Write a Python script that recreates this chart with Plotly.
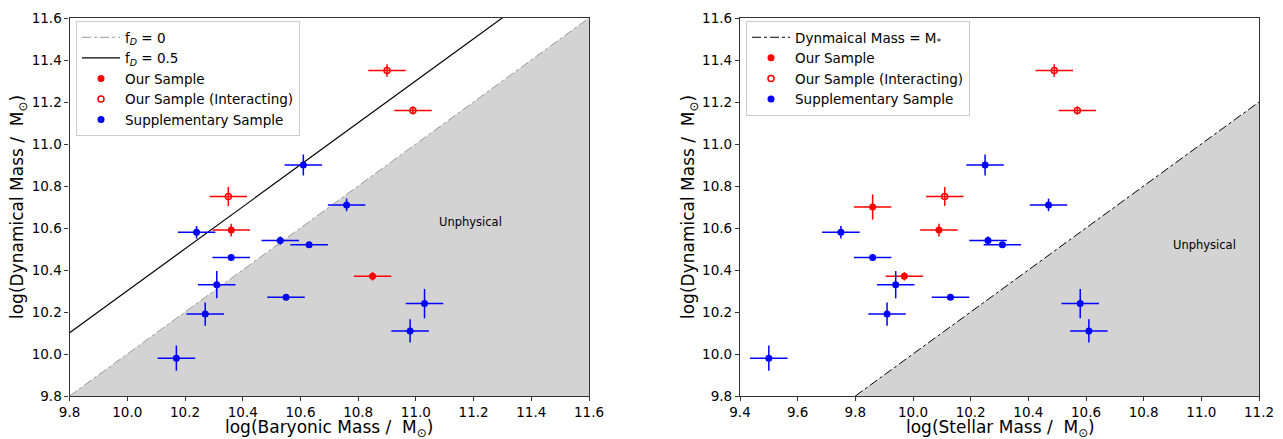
import math
import plotly.graph_objects as go

# ---------------- data ----------------
# Supplementary sample
sup_dyn = [10.90, 10.71, 10.58, 10.54, 10.52, 10.46, 10.33, 10.27, 10.24, 10.19, 10.11, 9.98]
sup_dyn_err = [0.05, 0.03, 0.03, 0.02, 0.01, 0.01, 0.065, 0.01, 0.07, 0.055, 0.055, 0.06]
sup_bary = [10.61, 10.76, 10.24, 10.53, 10.63, 10.36, 10.31, 10.55, 11.03, 10.27, 10.98, 10.17]
sup_stellar = [10.25, 10.47, 9.75, 10.26, 10.31, 9.86, 9.94, 10.13, 10.58, 9.91, 10.61, 9.50]
sup_x_err = [0.065] * 12

# Our sample (left panel: baryonic)
our_bary = [10.36, 10.85]
our_bary_dyn = [10.59, 10.37]
our_bary_dyn_err = [0.03, 0.02]
our_bary_x_err = [0.065, 0.065]

# Our sample (right panel: stellar)
our_stellar = [9.86, 10.09, 9.97]
our_stellar_dyn = [10.70, 10.59, 10.37]
our_stellar_dyn_err = [0.06, 0.03, 0.02]
our_stellar_x_err = [0.065, 0.065, 0.065]

# Our sample (interacting)
int_bary = [10.35, 10.90, 10.99]
int_stellar = [10.11, 10.49, 10.57]
int_dyn = [10.75, 11.35, 11.16]
int_dyn_err = [0.045, 0.03, 0.02]
int_x_err = [0.065, 0.065, 0.065]

left_xrange = [9.8, 11.6]
right_xrange = [9.4, 11.2]
yrange = [9.8, 11.6]
fD_values = [0.0, 0.5]

left_xtitle = "log(Baryonic Mass /  M<sub>⊙</sub>)"
right_xtitle = "log(Stellar Mass /  M<sub>⊙</sub>)"
ytitle = "log(Dynamical Mass /  M<sub>⊙</sub>)"

RED = "#ff0000"
BLUE = "#0000ff"
FONT = "DejaVu Sans"

fig = go.Figure()

# ---------- left panel ----------
fig.add_trace(go.Scatter(
    x=[left_xrange[0], left_xrange[1], left_xrange[1], left_xrange[0]],
    y=[left_xrange[0], left_xrange[1], yrange[0], yrange[0]],
    fill="toself", fillcolor="#d3d3d3", line=dict(width=0),
    mode="lines", showlegend=False, hoverinfo="skip", xaxis="x", yaxis="y"))

styles = [dict(color="#999999", dash="dashdot", width=1), dict(color="black", dash="solid", width=1.2)]
for fD, st in zip(fD_values, styles):
    off = -math.log10(1 - fD)
    fig.add_trace(go.Scatter(
        x=left_xrange, y=[v + off for v in left_xrange], mode="lines",
        line=st, name=f"f<sub><i>D</i></sub> = {fD:g}", legend="legend",
        xaxis="x", yaxis="y"))


def pts(x, y, xe, ye, color, name, open_=False, legend="legend", xa="x", ya="y"):
    return go.Scatter(
        x=x, y=y, mode="markers", name=name, legend=legend,
        marker=dict(symbol="circle-open" if open_ else "circle",
                    size=6 if open_ else 7, color=color,
                    line=dict(width=1.5, color=color) if open_ else dict(width=0)),
        error_x=dict(type="data", array=xe, color=color, thickness=1.5, width=0),
        error_y=dict(type="data", array=ye, color=color, thickness=1.5, width=0),
        xaxis=xa, yaxis=ya)


fig.add_trace(pts(our_bary, our_bary_dyn, our_bary_x_err, our_bary_dyn_err, RED, "Our Sample"))
fig.add_trace(pts(int_bary, int_dyn, int_x_err, int_dyn_err, RED, "Our Sample (Interacting)", open_=True))
fig.add_trace(pts(sup_bary, sup_dyn, sup_x_err, sup_dyn_err, BLUE, "Supplementary Sample"))

# ---------- right panel ----------
fig.add_trace(go.Scatter(
    x=[yrange[0], right_xrange[1], right_xrange[1], yrange[0]],
    y=[yrange[0], right_xrange[1], yrange[0], yrange[0]],
    fill="toself", fillcolor="#d3d3d3", line=dict(width=0),
    mode="lines", showlegend=False, hoverinfo="skip", xaxis="x2", yaxis="y2"))
fig.add_trace(go.Scatter(
    x=[yrange[0], right_xrange[1]], y=[yrange[0], right_xrange[1]], mode="lines",
    line=dict(color="black", dash="dashdot", width=1),
    name="Dynmaical Mass = M<sub>*</sub>", legend="legend2", xaxis="x2", yaxis="y2"))
fig.add_trace(pts(our_stellar, our_stellar_dyn, our_stellar_x_err, our_stellar_dyn_err, RED,
                  "Our Sample", legend="legend2", xa="x2", ya="y2"))
fig.add_trace(pts(int_stellar, int_dyn, int_x_err, int_dyn_err, RED, "Our Sample (Interacting)",
                  open_=True, legend="legend2", xa="x2", ya="y2"))
fig.add_trace(pts(sup_stellar, sup_dyn, sup_x_err, sup_dyn_err, BLUE, "Supplementary Sample",
                  legend="legend2", xa="x2", ya="y2"))

# page has an 8px body margin -> figure coords = page coords - 8
OFF = 8
W, H = 1283 - 2 * OFF, 439 - OFF


def fx(p):
    return (p - OFF) / W


def fy(p):
    return 1 - (p - OFF) / H


axis_common = dict(showgrid=False, zeroline=False, showline=True, linecolor="#333333", linewidth=1.3,
                   mirror=True, ticks="outside", ticklen=4, tickcolor="#333333",
                   tickfont=dict(family=FONT, size=13.5, color="black"), automargin=False,
                   dtick=0.2, tickformat=".1f")
title_font = dict(family=FONT, size=17, color="black")
legend_font = dict(family=FONT, size=13.5, color="black")

fig.update_layout(
    width=W, height=H, margin=dict(l=0, r=0, t=0, b=0),
    plot_bgcolor="white", paper_bgcolor="white",
    font=dict(family=FONT, color="black"),
    xaxis=dict(domain=[fx(69.6), fx(589)], range=left_xrange, anchor="y",
               tick0=9.8, **axis_common),
    yaxis=dict(domain=[fy(396), fy(18)], range=yrange, anchor="x",
               tick0=9.8, **axis_common),
    xaxis2=dict(domain=[fx(740), fx(1259)], range=right_xrange, anchor="y2",
                tick0=9.4, **axis_common),
    yaxis2=dict(domain=[fy(396), fy(18)], range=yrange, anchor="x2",
                tick0=9.8, **axis_common),
    legend=dict(x=fx(76), y=fy(21), xanchor="left", yanchor="top",
                bgcolor="rgba(255,255,255,0.8)", bordercolor="#cccccc", borderwidth=1,
                font=legend_font, tracegroupgap=0, itemwidth=38),
    legend2=dict(x=fx(746), y=fy(21), xanchor="left", yanchor="top",
                 bgcolor="rgba(255,255,255,0.8)", bordercolor="#cccccc", borderwidth=1,
                 font=legend_font, tracegroupgap=0, itemwidth=38),
    annotations=[
        dict(text="Unphysical", x=11.19, y=10.63, xref="x", yref="y", showarrow=False,
             font=dict(family=FONT, size=11.5, color="black")),
        dict(text="Unphysical", x=11.01, y=10.52, xref="x2", yref="y2", showarrow=False,
             font=dict(family=FONT, size=11.5, color="black")),
        dict(text=left_xtitle, x=fx(329), y=fy(428.5), xref="paper", yref="paper",
             showarrow=False, font=title_font, xanchor="center", yanchor="middle"),
        dict(text=right_xtitle, x=fx(1000), y=fy(428.5), xref="paper", yref="paper",
             showarrow=False, font=title_font, xanchor="center", yanchor="middle"),
        dict(text=ytitle, x=fx(18), y=fy(207), xref="paper", yref="paper", textangle=-90,
             showarrow=False, font=title_font, xanchor="center", yanchor="middle"),
        dict(text=ytitle, x=fx(689), y=fy(207), xref="paper", yref="paper", textangle=-90,
             showarrow=False, font=title_font, xanchor="center", yanchor="middle"),
    ],
)

fig.write_html("out.html")
